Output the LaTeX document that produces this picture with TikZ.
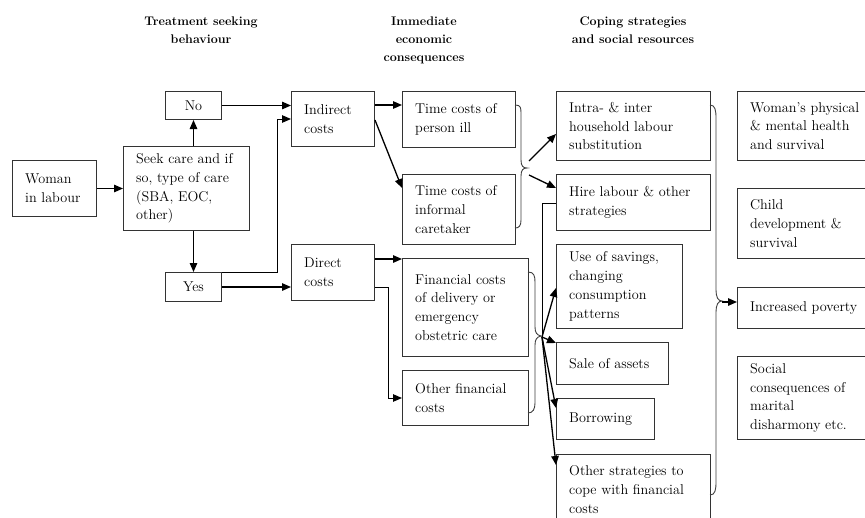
\documentclass[tikz,border=0pt]{standalone}
\usepackage{fontspec}
\usetikzlibrary{arrows.meta,calc}
\tikzset{
  box/.style={draw=black!80, line width=1pt, inner sep=0pt},
  txt/.style={inner sep=0pt, align=left, font=\fontsize{14.2}{18.8}\selectfont},
  ctxt/.style={font=\fontsize{14.2}{18.8}\selectfont},
  arr/.style={line width=1.3pt, -{Triangle[length=9pt,width=7.5pt]}},
  tarr/.style={line width=1pt, -{Triangle[length=9pt,width=7.5pt]}},
  lnk/.style={line width=1pt},
  brc/.style={draw=black!75, line width=0.9pt},
  hdr/.style={font=\bfseries\fontsize{12.5}{17.8}\selectfont, align=center, inner sep=0pt, anchor=north}
}
\newcommand{\bx}[6]{%
  \node[box, minimum width=#4pt, minimum height=#5pt, anchor=north west] (#1) at (#2,#3) {};
  \node[txt, anchor=west] (#1-t) at ([xshift=13pt]#1.west) {#6};}
\begin{document}
\begin{tikzpicture}[x=1pt,y=-1pt]
\clip (0,0) rectangle (865,517);
\fill[white] (0,0) rectangle (865,517);
% headers
\node[hdr] (h1) at (201,17) {Treatment seeking\\behaviour};
\node[hdr] (h2) at (424,17) {Immediate\\economic\\consequences};
\node[hdr] (h3) at (633,17) {Coping strategies\\and social resources};
% boxes
\bx{woman}{12}{160}{84}{56}{Woman\\in labour}
\bx{seek}{123}{146}{126}{84}{Seek care and if\\so, type of care\\(SBA, EOC,\\other)}
\node[box, ctxt, minimum width=56pt, minimum height=28pt, anchor=north west] (no) at (165,91) {No};
\node[box, ctxt, minimum width=56pt, minimum height=29pt, anchor=north west] (yes) at (165,272) {Yes};
\bx{indirect}{291}{91}{83}{55}{Indirect\\costs}
\bx{direct}{291}{244}{83}{56}{Direct\\costs}
\bx{tpi}{402}{91}{113}{56}{Time costs of\\person ill}
\bx{tic}{402}{174}{113}{70}{Time costs of\\informal\\caretaker}
\bx{fin}{402}{258}{126}{98}{Financial costs\\of delivery or\\emergency\\obstetric care}
\bx{ofc}{402}{370}{126}{55}{Other financial\\costs}
\bx{intra}{556}{91}{154}{69}{Intra- \& inter\\household labour\\substitution}
\bx{hire}{556}{174}{154}{56}{Hire labour \& other\\strategies}
\bx{sav}{556}{244}{126}{84}{Use of savings,\\changing\\consumption\\patterns}
\bx{sale}{556}{342}{112}{42}{Sale of assets}
\bx{borrow}{556}{398}{98}{41}{Borrowing}
\bx{oth}{556}{454}{154}{70}{Other strategies to\\cope with financial\\costs}
\bx{wph}{737}{91}{140}{69}{Woman’s physical\\\& mental health\\and survival}
\bx{child}{737}{188}{140}{70}{Child\\development \&\\survival}
\bx{pov}{737}{287}{140}{41}{Increased poverty}
\bx{soc}{737}{356}{140}{83}{Social\\consequences of\\marital\\disharmony etc.}
% connectors left part
\draw[arr] (woman.east) -- (seek.west);
\draw[arr] (seek.north -| no.south) -- (no.south);
\draw[arr] (seek.south -| yes.north) -- (yes.north);
\draw[arr] (no.east) -- (no.east -| indirect.west);
\coordinate (j1) at (277,119);
\draw[tarr] (yes.north east) -| (j1) -- (j1 -| indirect.west);
\draw[arr] (yes.east) -- (yes.east -| direct.west);
\draw[arr] ([yshift=-14pt]indirect.north east) -- ([yshift=-14pt]tpi.north west);
\draw[arr] ([yshift=-29pt]indirect.north east) -- ([yshift=-14pt]tic.north west);
\draw[arr] ([yshift=-15pt]direct.north east) -- ([yshift=-1pt]fin.north west);
\draw[tarr] ([yshift=-43pt]direct.north east) -| ([xshift=-14pt]ofc.west) -- (ofc.west);
% brace 1
\draw[brc] (515,105) .. controls (521,105) and (521,108) .. (521,114) -- (521,160)
  .. controls (521,166) and (523,168) .. (527,168)
  .. controls (523,168) and (521,170) .. (521,176) -- (521,220)
  .. controls (521,226) and (519,228) .. (515,228);
\coordinate (b1a) at (529,161);
\coordinate (b1b) at (529,175);
\draw[arr] (b1a) -- ([yshift=-43pt]intra.north west);
\draw[arr] (b1b) -- ([yshift=-14pt]hire.north west);
% brace 2 and hub
\coordinate (hub) at (542,337);
\draw[brc] (528,272) .. controls (534,272) and (535,276) .. (535,282) -- (535,327)
  .. controls (535,333) and (537,335) .. (541,336)
  .. controls (537,337) and (535,339) .. (535,345) -- (535,403)
  .. controls (535,409) and (533,413) .. (528,413);
\draw[lnk] ([yshift=-29pt]hire.north west) -| (hub);
\draw[arr] (hub) -- ([yshift=-44pt]sav.north west);
\draw[arr] (hub) -- ([yshift=-1pt]sale.north west);
\draw[arr] (hub) -- ([yshift=-10pt]borrow.north west);
\draw[arr] (hub) -- ([yshift=-11pt]oth.north west);
% brace 3
\draw[brc] (710,105) .. controls (715,105) and (716,110) .. (716,118) -- (716,290)
  .. controls (716,297) and (718,301) .. (722,301)
  .. controls (718,301) and (716,305) .. (716,312) -- (716,482)
  .. controls (716,490) and (715,495) .. (710,495);
\coordinate (b3) at (722,302);
\draw[arr] (b3) -- ([yshift=-15pt]pov.north west);
\end{tikzpicture}
\end{document}
